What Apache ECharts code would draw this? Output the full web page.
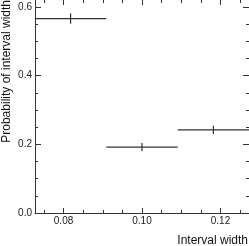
<!DOCTYPE html>
<html>
<head>
<meta charset="utf-8">
<script src="https://cdn.jsdelivr.net/npm/echarts@6/dist/echarts.min.js"></script>
<style>html,body{margin:0;padding:0;background:#fff;}#c{width:249px;height:246px;}</style>
</head>
<body>
<div id="c"></div>
<script>
var binLow = [0.0727, 0.0909, 0.1091];
var binHigh = [0.0909, 0.1091, 0.1273];
var binCenter = [0.0818, 0.1000, 0.1182];
var probability = [0.566, 0.192, 0.242];
var probError = [0.015, 0.012, 0.012];
var xMajor = [0.08, 0.10, 0.12];
var xMinor = [0.075, 0.085, 0.09, 0.095, 0.105, 0.11, 0.115, 0.125];
var yMajor = [0.0, 0.2, 0.4, 0.6];
var yMinor = [0.05, 0.1, 0.15, 0.25, 0.3, 0.35, 0.45, 0.5, 0.55];
var xTitle = 'Interval width';
var yTitle = 'Probability of interval width';

var FONT = '"Liberation Sans", Arial, Helvetica, sans-serif';
var AX = '#333';
var XMIN = 0.08 / 1.1, XMAX = 0.14 / 1.1, YMIN = 0, YMAX = 0.62;

var data = binCenter.map(function (c, i) {
  return [binLow[i], binHigh[i], c, probability[i], probError[i]];
});

function xAx(pos, vals, len, labels, line) {
  return {
    type: 'value', position: pos, min: XMIN, max: XMAX,
    splitLine: { show: false },
    axisLine: { show: line, onZero: false, lineStyle: { color: AX, width: 1 } },
    axisTick: { show: true, inside: true, length: len, customValues: vals, lineStyle: { color: AX, width: 1 } },
    axisLabel: labels ? { show: true, customValues: vals, fontSize: 10, fontFamily: FONT, color: '#222', margin: 3,
      formatter: function (v) { return v.toFixed(2); } } : { show: false }
  };
}
function yAx(pos, vals, len, labels, line) {
  return {
    type: 'value', position: pos, min: YMIN, max: YMAX,
    splitLine: { show: false },
    axisLine: { show: line, onZero: false, lineStyle: { color: AX, width: 1 } },
    axisTick: { show: true, inside: true, length: len, customValues: vals, lineStyle: { color: AX, width: 1 } },
    axisLabel: labels ? { show: true, customValues: vals, fontSize: 10, fontFamily: FONT, color: '#222', margin: 3,
      formatter: function (v) { return v.toFixed(1); } } : { show: false }
  };
}

var chart = echarts.init(document.getElementById('c'), null, { renderer: 'canvas' });
chart.setOption({
  animation: false,
  backgroundColor: '#fff',
  grid: { left: 35, right: 0, top: 0, bottom: 33, containLabel: false },
  xAxis: [
    xAx('bottom', xMajor, 5, true, true),
    xAx('bottom', xMinor, 3, false, false),
    xAx('top', xMajor, 5, false, false),
    xAx('top', xMinor, 3, false, false)
  ],
  yAxis: [
    yAx('left', yMajor, 6, true, true),
    yAx('left', yMinor, 3, false, false),
    yAx('right', yMajor, 6, false, false),
    yAx('right', yMinor, 3, false, false)
  ],
  series: [{
    type: 'custom',
    xAxisIndex: 0, yAxisIndex: 0,
    data: data,
    clip: false,
    renderItem: function (params, api) {
      var lo = api.value(0), hi = api.value(1), c = api.value(2), v = api.value(3), e = api.value(4);
      var a = api.coord([lo, v]), b = api.coord([hi, v]);
      var t = api.coord([c, v + e]), d = api.coord([c, v - e]);
      var st = { stroke: '#333', lineWidth: 1.2, fill: null };
      return {
        type: 'group',
        children: [
          { type: 'line', shape: { x1: a[0], y1: a[1], x2: b[0], y2: b[1] }, style: st },
          { type: 'line', shape: { x1: t[0], y1: t[1], x2: d[0], y2: d[1] }, style: st }
        ]
      };
    }
  }],
  graphic: [
    { type: 'text', right: 1, top: 235,
      style: { text: xTitle, font: '12px ' + FONT, fill: '#111' } },
    { type: 'text', x: 7, y: 0, rotation: Math.PI / 2,
      style: { text: yTitle, font: '12px ' + FONT, fill: '#111', align: 'right', verticalAlign: 'middle' } }
  ]
});
</script>
</body>
</html>
